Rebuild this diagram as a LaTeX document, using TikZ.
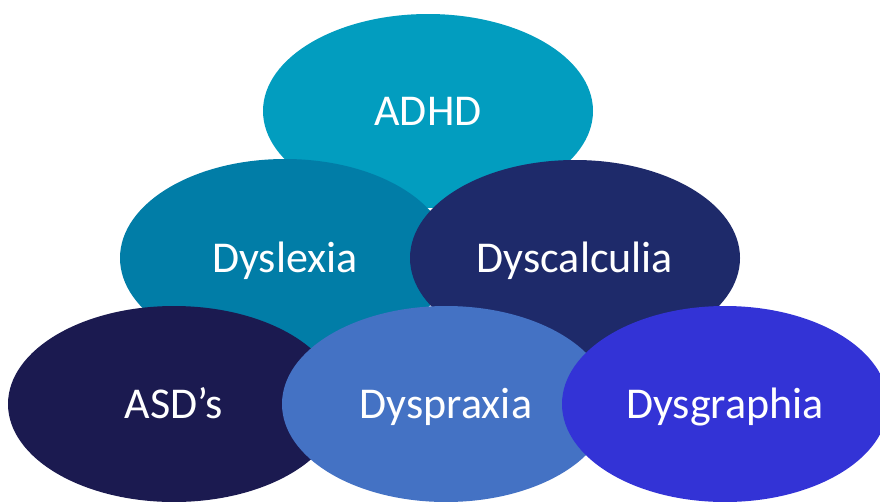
\documentclass[tikz,border=0pt]{standalone}
\usepackage{fontspec}
\setmainfont{Carlito}
\usetikzlibrary{shapes.geometric}
\definecolor{cADHD}{RGB}{2,157,191}
\definecolor{cDyslexia}{RGB}{1,125,167}
\definecolor{cDyscalc}{RGB}{30,42,106}
\definecolor{cASD}{RGB}{27,26,80}
\definecolor{cDyspraxia}{RGB}{68,114,196}
\definecolor{cDysgraph}{RGB}{51,51,214}
\begin{document}
\begin{tikzpicture}[x=1pt,y=-1pt,
  blob/.style={ellipse, inner sep=0pt, text=white, text height=28.3pt, text depth=0pt,
    font=\fontsize{44}{50}\selectfont}]
\useasboundingbox (0,0) rectangle (880,501);
\clip (0,0) rectangle (880,501);
\node[blob, fill=cADHD, minimum width=330pt, minimum height=194pt] (adhd) at (428,111) {ADHD};
\node[blob, fill=cDyslexia, minimum width=330pt, minimum height=198pt] (dyslexia) at (285,258) {Dyslexia};
\node[blob, fill=cDyscalc, minimum width=330pt, minimum height=196pt] (dyscalc) at (575,258) {Dyscalculia};
\node[blob, fill=cASD, minimum width=332pt, minimum height=196pt] (asd) at (174,404) {ASD’s};
\node[blob, fill=cDyspraxia, minimum width=328pt, minimum height=196pt] (dyspraxia) at (446,404) {Dyspraxia};
\node[blob, fill=cDysgraph, minimum width=326pt, minimum height=196pt] (dysgraph) at (725,404) {Dysgraphia};
\end{tikzpicture}
\end{document}
